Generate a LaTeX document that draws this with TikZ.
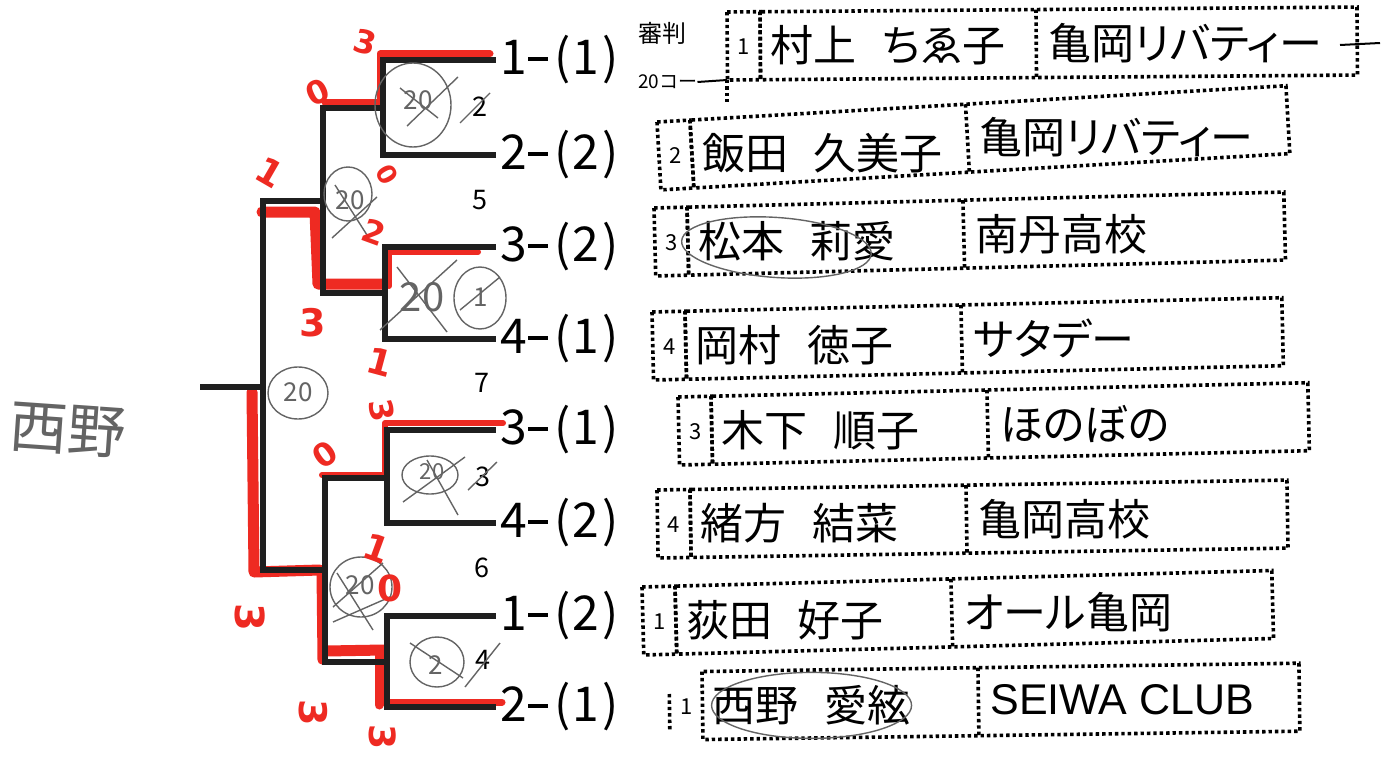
\documentclass[tikz,border=0pt]{standalone}
\usepackage{fontspec}
\setmainfont{Noto Sans CJK JP}
\newfontfamily\jp[CharacterWidth=AlternateProportional]{Noto Sans CJK JP}
\newfontfamily\lat{Liberation Sans}
\newfontfamily\hw{DejaVu Sans}
\definecolor{marker}{RGB}{238,42,34}
\definecolor{pencilc}{RGB}{100,100,100}
\newcommand\sd[2]{\makebox[0.5em]{#1}\makebox[0.5em]{\rule[0.3em]{0.42em}{0.07em}}\makebox[0.5em]{(}\makebox[0.5em]{#2}\makebox[0.5em]{)}}
\newcommand\entryrow[7]{%
\begin{scope}[shift={(#1,#2)},rotate=#3]
\draw[dotbox] (0,0) rectangle (33,68);
\draw[dotbox] (33,0) rectangle (630,68);
\draw[dotbox] (309,0) -- (309,68);
\coordinate (#7pn) at (16.5,35);
\coordinate (#7pa) at (43,34);
\coordinate (#7pb) at (321,34);
\end{scope}
\node[numf] (#7n) at (#7pn) {#4};
\node[namef] (#7a) at (#7pa) {#5};
\node[namef] (#7b) at (#7pb) {#6};}
\tikzset{
  br/.style={line width=5.5pt, draw=black!88, line cap=rect},
  mk/.style={line width=#1, draw=marker, line cap=round, line join=round},
  mk/.default=8pt,
  dotbox/.style={draw=black, line width=3.6pt, dash pattern=on 3.4pt off 3pt},
  pen/.style={draw=pencilc, line width=1.4pt},
  pent/.style={text=pencilc, inner sep=0, font=\fontsize{26}{26}\selectfont},
  seed/.style={anchor=west, inner sep=0, font=\fontsize{48}{48}\selectfont},
  namef/.style={anchor=west, inner sep=0, font=\jp\fontsize{43}{43}\selectfont},
  numf/.style={inner sep=0, font=\fontsize{22}{22}\selectfont},
  prn/.style={inner sep=0, font=\fontsize{27}{27}\selectfont},
  score/.style={text=marker, inner sep=0, font=\hw\bfseries\fontsize{32}{32}\selectfont}
}
\begin{document}
\begin{tikzpicture}[x=1pt,y=-1pt]
\useasboundingbox (0,0) rectangle (1386,760);
\fill[white] (0,0) rectangle (1386,760);

% ---------- coordinates of the bracket ----------
\coordinate (a1) at (493,60);
\coordinate (a2) at (493,155);
\coordinate (a3) at (493,247);
\coordinate (a4) at (493,339);
\coordinate (a5) at (493,430);
\coordinate (a6) at (493,523);
\coordinate (a7) at (493,616);
\coordinate (a8) at (493,707);
\coordinate (m1) at (383,108);
\coordinate (m2) at (385,293);
\coordinate (m3) at (387,478);
\coordinate (m4) at (387,662);
\coordinate (s1) at (323,201);
\coordinate (s2) at (325,570);
\coordinate (f) at (263,387);
\coordinate (root) at (203,387);

% ---------- red marker (winners) ----------
\draw[mk=7pt] (490,54) -- (380,54) -- (380,102) -- (325,102);
\draw[mk=6pt] (478,252) -- (389,252) -- (389,286);
\draw[mk=11pt] (384,284) -- (318,284) -- (315,212) -- (262,212);
\draw[mk=6pt] (503,423) -- (385,423) -- (385,475) -- (322,475);
\draw[mk=11pt] (252,392) -- (254,572) -- (320,570);
\draw[mk=9pt] (321,572) -- (322,660);
\draw[mk=11pt] (326,651) -- (384,650);
\draw[mk=9pt] (379,655) -- (379,705);
\draw[mk=7pt] (384,702) -- (502,702);

% ---------- bracket ----------
\draw[br] (a1) -| (m1) |- (a2);
\draw[br] (a3) -| (m2) |- (a4);
\draw[br] (m1) -| (s1) |- (m2);
\draw[br] (a5) -| (m3) |- (a6);
\draw[br] (a7) -| (m4) |- (a8);
\draw[br] (m3) -| (s2) |- (m4);
\draw[br] (s1) -| (f) |- (s2);
\draw[br] (f) -- (root);

% ---------- seed labels ----------
\node[seed] (l1) at (502,60) {\sd{1}{1}};
\node[seed] (l2) at (502,155) {\sd{2}{2}};
\node[seed] (l3) at (502,247) {\sd{3}{2}};
\node[seed] (l4) at (502,339) {\sd{4}{1}};
\node[seed] (l5) at (502,430) {\sd{3}{1}};
\node[seed] (l6) at (502,523) {\sd{4}{2}};
\node[seed] (l7) at (502,616) {\sd{1}{2}};
\node[seed] (l8) at (502,707) {\sd{2}{1}};

% ---------- printed small numbers ----------
\node[prn] (p2) at (480,107) {2};
\node[prn] (p5) at (480,200) {5};
\node[prn] (p7) at (482,383) {7};
\node[prn] (p3) at (483,477) {3};
\node[prn] (p6) at (482,568) {6};
\node[prn] (p4) at (483,660) {4};

% ---------- pencil annotations ----------
\draw[pen] (413,105) ellipse [x radius=38, y radius=42];
\node[pent] (g1) at (418,100) {20};
\draw[pen] (407,126) -- (458,77);
\draw[pen] (400,88) -- (438,118);
\draw[pen] (460,123) -- (490,93);

\draw[pen] (348,194) ellipse [x radius=24, y radius=27];
\node[pent] (g2) at (350,200) {20};
\draw[pen] (332,238) -- (377,197);
\draw[pen] (335,185) -- (367,235);

\node[pent, font=\fontsize{40}{40}\selectfont] (g3) at (422,297) {20};
\draw[pen] (380,330) -- (457,260);
\draw[pen] (397,267) -- (447,332);
\draw[pen] (480,298) ellipse [x radius=26, y radius=31];
\node[pent] (g4) at (481,297) {1};
\draw[pen] (460,310) -- (500,277);

\draw[pen] (298,393) ellipse [x radius=30, y radius=26];
\node[pent] (g5) at (298,392) {20};

\draw[pen] (430,475) ellipse [x radius=28, y radius=19];
\node[pent, font=\fontsize{22}{22}\selectfont] (g6) at (432,472) {20};
\draw[pen] (403,502) -- (465,457);
\draw[pen] (427,460) -- (458,515);
\draw[pen] (468,490) -- (497,462);

\draw[pen] (361,587) ellipse [x radius=31, y radius=30];
\node[pent] (g7) at (360,585) {20};
\draw[pen] (333,607) -- (383,563);
\draw[pen] (337,573) -- (373,630);
\draw[pen] (333,622) -- (390,597);

\draw[pen] (437,662) ellipse [x radius=27, y radius=25];
\node[pent] (g8) at (436,665) {2};
\draw[pen] (410,643) -- (463,678);
\draw[pen] (465,687) -- (500,643);

\node[pent, font=\fontsize{58}{58}\selectfont, rotate=-4] (win) at (68,430) {西野};

% ---------- red scores ----------
\node[score, rotate=-15] (r1) at (365,42) {3};
\node[score, rotate=25] (r2) at (318,92) {0};
\node[score, rotate=-30, font=\hw\bfseries\fontsize{36}{36}\selectfont] (r3) at (270,172) {1};
\node[score, rotate=-60, font=\hw\bfseries\fontsize{26}{26}\selectfont] (r4) at (387,175) {0};
\node[score, rotate=-20] (r5) at (374,232) {2};
\node[score, font=\hw\bfseries\fontsize{38}{38}\selectfont] (r6) at (313,323) {3};
\node[score, rotate=-15, font=\hw\bfseries\fontsize{36}{36}\selectfont] (r7) at (380,362) {1};
\node[score, rotate=-80] (r8) at (382,410) {3};
\node[score, rotate=35] (r9) at (325,455) {0};
\node[score, rotate=-20, font=\hw\bfseries\fontsize{36}{36}\selectfont] (r10) at (377,548) {1};
\node[score, font=\hw\bfseries\fontsize{36}{36}\selectfont] (r11) at (390,588) {0};
\node[score, rotate=-90, font=\hw\bfseries\fontsize{40}{40}\selectfont] (r12) at (250,617) {3};
\node[score, rotate=-90, font=\hw\bfseries\fontsize{38}{38}\selectfont] (r13) at (313,713) {3};
\node[score, rotate=-90, font=\hw\bfseries\fontsize{36}{36}\selectfont] (r14) at (383,737) {3};

% ---------- referee ----------
\node[inner sep=0, font=\fontsize{24}{24}\selectfont] (ref) at (662,33) {審判};
\node[inner sep=0, anchor=west, font=\fontsize{19}{19}\selectfont] (court) at (638,82) {20コー};
\coordinate (cj) at (727,80);
\draw[line width=2pt] (court.east) -- (cj);
\draw[dotbox] (cj) -- (727,102);

% ---------- entries ----------
\entryrow{727}{12}{0.45}{1}{村上\hspace{0.6em}ちゑ子}{亀岡リバティー}{e1}
\entryrow{657}{122}{3.3}{2}{飯田\hspace{0.6em}久美子}{亀岡リバティー}{e2}
\entryrow{654}{208}{1.45}{3}{松本\hspace{0.6em}莉愛}{南丹高校}{e3}
\entryrow{652}{312}{1.3}{4}{岡村\hspace{0.6em}徳子}{サタデー}{e4}
\entryrow{678}{397}{1.3}{3}{木下\hspace{0.6em}順子}{ほのぼの}{e5}
\entryrow{657}{490}{0.9}{4}{緒方\hspace{0.6em}結菜}{亀岡高校}{e6}
\entryrow{642}{587}{1.5}{1}{荻田\hspace{0.6em}好子}{オール亀岡}{e7}
\begin{scope}[shift={(669,672)},rotate=0.8]
\draw[dotbox] (0,22) -- (0,58);
\draw[dotbox] (33,0) rectangle (630,68);
\draw[dotbox] (309,0) -- (309,68);
\coordinate (e8pn) at (17,35);
\coordinate (e8pa) at (43,34);
\coordinate (e8pb) at (321,32);
\end{scope}
\node[numf] (e8n) at (e8pn) {1};
\node[namef] (e8a) at (e8pa) {西野\hspace{0.6em}愛絃};
\node[anchor=west, inner sep=0, font=\lat\fontsize{43}{43}\selectfont] (e8b) at (e8pb) {SEIWA CLUB};
\draw[line width=2pt] (1340,45) -- (1380,43);
\draw[pen] (e8a.center) ellipse [x radius=100, y radius=33];
\draw[pen, rotate=-4] (e3a.center) ++(-20,8) ellipse [x radius=95, y radius=30];
\end{tikzpicture}
\end{document}
